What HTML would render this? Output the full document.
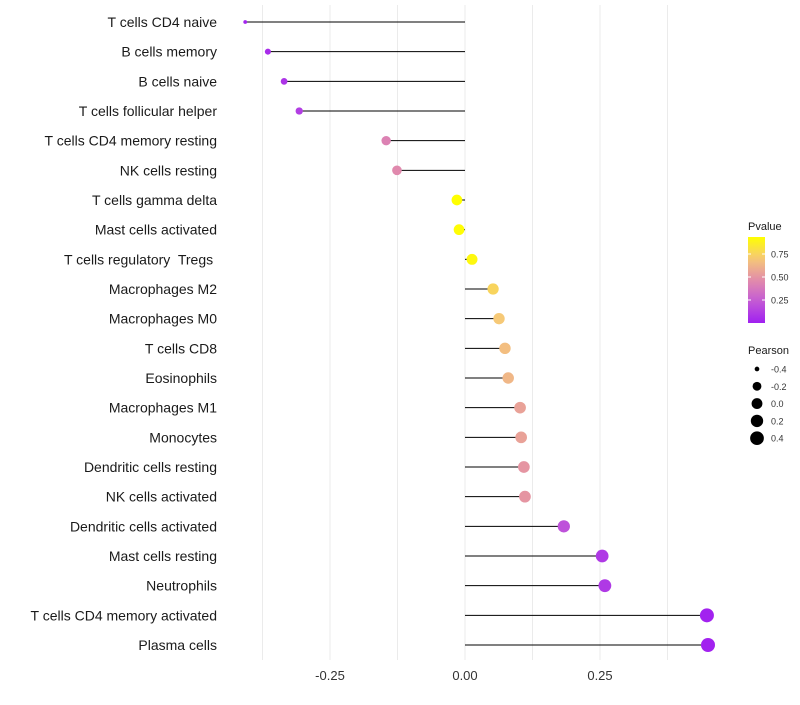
<!DOCTYPE html>
<html><head><meta charset="utf-8"><style>
body{margin:0;background:#fff;font-family:"Liberation Sans",sans-serif}
text{white-space:pre}
</style></head><body>
<svg id="c" width="800" height="700" xmlns="http://www.w3.org/2000/svg"></svg>
<script>
const categories=["T cells CD4 naive","B cells memory","B cells naive","T cells follicular helper","T cells CD4 memory resting","NK cells resting","T cells gamma delta","Mast cells activated","T cells regulatory  Tregs ","Macrophages M2","Macrophages M0","T cells CD8","Eosinophils","Macrophages M1","Monocytes","Dendritic cells resting","NK cells activated","Dendritic cells activated","Mast cells resting","Neutrophils","T cells CD4 memory activated","Plasma cells"];
const pearson=[-0.407,-0.365,-0.335,-0.307,-0.146,-0.126,-0.015,-0.011,0.013,0.052,0.063,0.074,0.080,0.102,0.104,0.109,0.111,0.183,0.254,0.259,0.448,0.450];
const pvalue=[0.02,0.05,0.08,0.12,0.42,0.45,0.93,0.92,0.9,0.75,0.7,0.66,0.63,0.55,0.55,0.5,0.5,0.2,0.1,0.1,0.01,0.01];
const xTicks=[-0.25,0,0.25];
const xTickLabels=["-0.25","0.00","0.25"];
const sizeLegend=[-0.4,-0.2,0.0,0.2,0.4];
const sizeLegendLabels=["-0.4","-0.2","0.0","0.2","0.4"];
const pLegend=[0.25,0.5,0.75];
const pLegendLabels=["0.25","0.50","0.75"];

const NS="http://www.w3.org/2000/svg",svg=document.getElementById('c');
const xs=v=>465+v*540;
const ys=i=>22+i*(623/21);
const vmin=Math.min(...pearson),vmax=Math.max(...pearson);
const rs=v=>{const t=Math.min(1,Math.max(0,(v-vmin)/(vmax-vmin)));return 1.9+5.1*Math.sqrt(t);};
const stops=[[0,[160,32,240]],[0.25,[195,90,214]],[0.5,[226,140,170]],[0.75,[246,200,120]],[1,[255,255,0]]];
function col(p){let t=Math.min(1,Math.max(0,p/0.93));for(let i=1;i<stops.length;i++){if(t<=stops[i][0]){const a=stops[i-1],b=stops[i],f=(t-a[0])/(b[0]-a[0]);return'rgb('+a[1].map((c,k)=>Math.round(c+(b[1][k]-c)*f)).join(',')+')';}}return'rgb(255,255,0)';}
function mk(t,a,p){const e=document.createElementNS(NS,t);for(const k in a)e.setAttribute(k,a[k]);(p||svg).appendChild(e);return e;}
[-0.375,-0.25,-0.125,0,0.125,0.25,0.375].forEach(v=>{const g=mk('line',{x1:xs(v),x2:xs(v),y1:5,y2:660,stroke:'#ebebeb','stroke-width':1});

});
categories.forEach((c,i)=>{const y=ys(i);
const t=mk('text',{x:217,y:y+5,'text-anchor':'end','font-size':14,fill:'#1a1a1a'});t.textContent=c;


const l=mk('line',{x1:xs(0),x2:xs(pearson[i]),y1:y,y2:y,stroke:'#000','stroke-width':1});


const d=mk('circle',{cx:xs(pearson[i]),cy:y,r:rs(pearson[i]),fill:col(pvalue[i])});

});
xTicks.forEach((v,i)=>{const t=mk('text',{x:xs(v),y:680,'text-anchor':'middle','font-size':13,fill:'#333'});t.textContent=xTickLabels[i];

});
const tt=mk('text',{x:748,y:230,'font-size':11,fill:'#1a1a1a'});tt.textContent='Pvalue';


const defs=mk('defs',{});const lg=mk('linearGradient',{id:'g',x1:0,y1:1,x2:0,y2:0},defs);
for(let k=0;k<=10;k++)mk('stop',{offset:k/10,'stop-color':col(k/10*0.93)},lg);
const bar=mk('rect',{x:748,y:237,width:17,height:86,fill:'url(#g)'});


const py=p=>323-p*92;
pLegend.forEach((p,i)=>{mk('line',{x1:748,x2:751,y1:py(p),y2:py(p),stroke:'#fff'});mk('line',{x1:762,x2:765,y1:py(p),y2:py(p),stroke:'#fff'});
const t=mk('text',{x:771,y:py(p)+3.5,'font-size':9,fill:'#333'});t.textContent=pLegendLabels[i];

});
const st=mk('text',{x:748,y:354,'font-size':11,fill:'#1a1a1a'});st.textContent='Pearson';


sizeLegend.forEach((v,i)=>{const y=369+i*17.3;
const c=mk('circle',{cx:757,cy:y,r:rs(v),fill:'#000'});


const t=mk('text',{x:771,y:y+3.5,'font-size':9,fill:'#333'});t.textContent=sizeLegendLabels[i];

});
</script>
</body></html>
